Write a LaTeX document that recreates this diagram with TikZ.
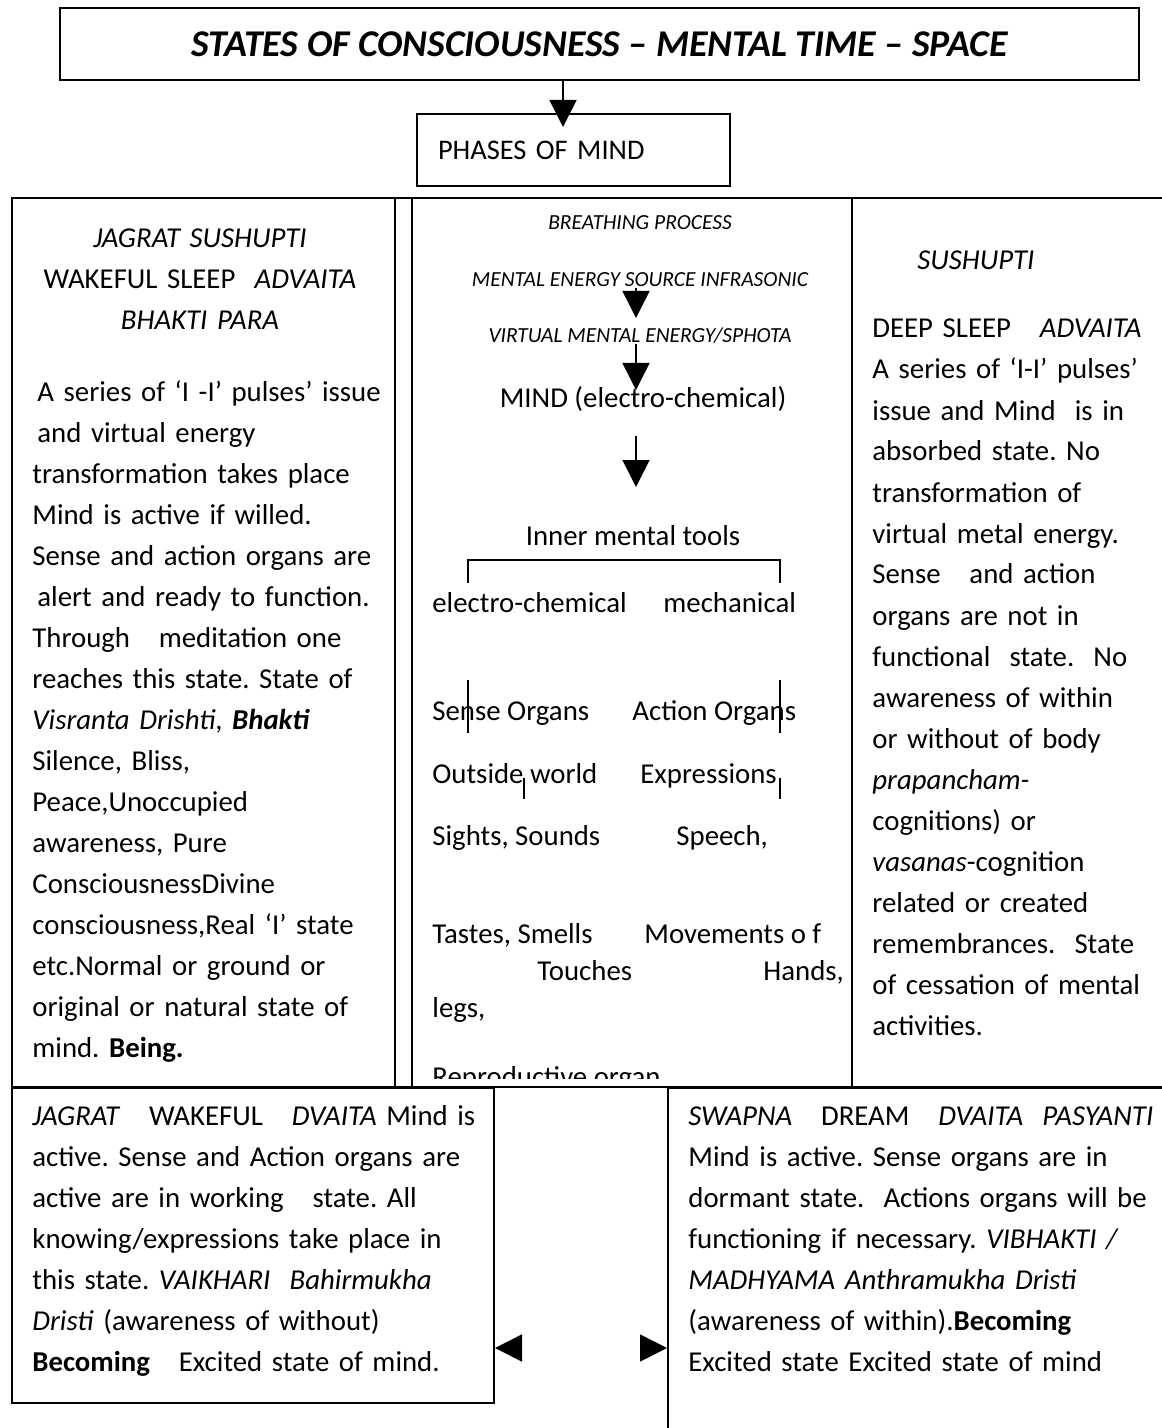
\documentclass[tikz,border=0pt]{standalone}
\usepackage{fontspec}
\setmainfont{Carlito}
\usetikzlibrary{arrows.meta}
\frenchspacing

\tikzset{
  tabrule/.style={line width=1pt},
  thinrule/.style={line width=0.75pt},
  tri/.style={thinrule,-{Triangle[length=13.5pt,width=13.5pt]}},
  colbody/.style={inner sep=0pt,anchor=base west,align=left,text width=250pt,
    font=\fontsize{14.4}{20.5}\selectfont},
  cell/.style={inner sep=0pt,anchor=base west,font=\fontsize{14.4}{16}\selectfont},
  smalltag/.style={inner sep=0pt,anchor=base,font=\fontsize{10.75}{12}\selectfont\itshape},
}

\begin{document}
\begin{tikzpicture}[x=0.5pt,y=-0.5pt]
    \useasboundingbox (0,0) rectangle (1161,1428);

    \node[draw,tabrule,minimum width=539.5pt,minimum height=36pt,inner sep=0pt,
      font=\fontsize{18.9}{20}\selectfont\bfseries\itshape] (title) at (599.5,44)
      {STATES OF CONSCIOUSNESS – MENTAL TIME – SPACE};
    \node[draw,thinrule,minimum width=156.5pt,minimum height=36pt,inner xsep=10.5pt,inner ysep=0pt,
      text width=135.5pt,align=left,font=\fontsize{14.2}{16}\selectfont] (phases) at (573.5,150)
      {PHASES OF MIND};
    \coordinate (phtip) at (563,127);
    \draw[tri] (title.south -| phtip) -- (phtip);

    \draw[tabrule] (12,1087) -- (12,198) -- (1165,198);
    \draw[tabrule] (11,1087) -- (1165,1087);
    \draw[tabrule] (395,198) -- (395,1087);
    \draw[tabrule] (412,198) -- (412,1087);
    \draw[tabrule] (852,198) -- (852,1087);

    % left column
    \node[colbody,align=center,anchor=base,text width=180pt] (jshead) at (200,248)
      {\textit{JAGRAT SUSHUPTI}\\WAKEFUL SLEEP\ \ \textit{ADVAITA}\\\textit{BHAKTI PARA}};
    \node[colbody] (jstext) at (32,401)
      {\hspace*{2.5pt}A series of ‘I -I’ pulses’ issue\\
       \hspace*{2.5pt}and virtual energy\\
       transformation takes place\\
       Mind is active if willed.\\
       Sense and action organs are\\
       \hspace*{2.5pt}alert and ready to function.\\
       Through\ \ \ meditation one\\
       reaches this state. State of\\
       \textit{Visranta Drishti}, \textbf{\textit{Bhakti}}\\
       Silence, Bliss,\\
       Peace,Unoccupied\\
       awareness, Pure\\
       ConsciousnessDivine\\
       consciousness,Real ‘I’ state\\
       etc.Normal or ground or\\
       original or natural state of\\
       mind. \textbf{Being.}};

    % middle column
    \node[smalltag] (breath) at (640,230) {BREATHING PROCESS};
    \node[smalltag] (source) at (640,287) {MENTAL ENERGY SOURCE INFRASONIC};
    \node[smalltag] (sphota) at (640,343) {VIRTUAL MENTAL ENERGY/SPHOTA};
    \node[cell,anchor=base] (mind) at (643,408) {MIND (electro-chemical)};
    \node[cell,anchor=base] (tools) at (633,545) {Inner mental tools};
    \coordinate (tip1) at (636,318);
    \coordinate (tip2) at (636,390);
    \coordinate (tip3) at (636,487);
    \draw[tri] (source.south -| tip1) -- (tip1);
    \draw[tri] (sphota.south -| tip2) -- (tip2);
    \draw[tri,shorten <=12pt] (mind.south -| tip3) -- (tip3);

    \node[cell] (echem) at (432,612) {electro-chemical};
    \node[cell] (mech) at (663,612) {mechanical};
    \draw[thinrule] (468,583) -- (468,560) -- (780,560) -- (780,583);

    \node[cell] (sense) at (432,720) {Sense Organs};
    \node[cell] (action) at (632,720) {Action Organs};
    \draw[thinrule] (468,680) -- (468,733);
    \draw[thinrule] (780,680) -- (780,733);
    \node[cell] (outside) at (432,783) {Outside world};
    \node[cell] (express) at (640,783) {Expressions};
    \draw[thinrule] (524,778) -- (524,799);
    \draw[thinrule] (780,778) -- (780,799);
    \node[cell] (sights) at (432,845) {Sights, Sounds};
    \node[cell] (speech) at (676,845) {Speech,};
    \node[cell] (tastes) at (432,943) {Tastes, Smells};
    \node[cell] (moves) at (644,943) {Movements o f};
    \node[cell] (touches) at (537,980) {Touches};
    \node[cell] (hands) at (763,980) {Hands,};
    \node[cell] (legs) at (432,1017) {legs,};
    \begin{scope}
      \clip (412,1040) rectangle (852,1078);
      \node[cell] (repro) at (432,1086) {Reproductive organ};
    \end{scope}

    % right column
    \node[colbody] (sushead) at (917,270) {\textit{SUSHUPTI}};
    \node[colbody] (sustext) at (872,338)
      {DEEP SLEEP\ \ \ \textit{ADVAITA}\\
       A series of ‘I-I’ pulses’\\
       issue and Mind\ \ is in\\
       absorbed state. No\\
       transformation of\\
       virtual metal energy.\\
       Sense\ \ \ and action\\
       organs are not in\\
       functional\ \ state.\ \ No\\
       awareness of within\\
       or without of body\\
       \textit{prapancham-}\\
       cognitions) or\\
       \textit{vasanas}-cognition\\
       related or created\\
       remembrances.\ \ State\\
       of cessation of mental\\
       activities.};

    % bottom boxes
    \node[draw,tabrule,anchor=north west,minimum width=241pt,minimum height=157.5pt,inner sep=0pt]
      (jagratbox) at (11,1087) {};
    \node[draw,tabrule,anchor=north west,minimum width=260pt,minimum height=180pt,inner sep=0pt]
      (swapbox) at (667,1087) {};
    \node[colbody] (jagrattext) at (32,1125)
      {\textit{JAGRAT}\ \ \ WAKEFUL\ \ \ \textit{DVAITA} Mind is\\
       active. Sense and Action organs are\\
       active are in working\ \ \ state. All\\
       knowing/expressions take place in\\
       this state. \textit{VAIKHARI\ \ Bahirmukha}\\
       \textit{Dristi} (awareness of without)\\
       \textbf{Becoming}\ \ \ Excited state of mind.};
    \node[colbody] (swapnatext) at (688,1125)
      {\textit{SWAPNA}\ \ \ DREAM\ \ \ \textit{DVAITA\ \ PASYANTI}\\
       Mind is active. Sense organs are in\\
       dormant state.\ \ Actions organs will be\\
       functioning if necessary. \textit{VIBHAKTI /}\\
       \textit{MADHYAMA Anthramukha Dristi}\\
       (awareness of within).\textbf{Becoming}\\
       Excited state Excited state of mind};
    \coordinate (lhead) at (520,1348);
    \coordinate (rhead) at (640,1348);
    \draw[tri] (lhead) -- (jagratbox.east |- lhead);
    \draw[tri] (rhead) -- (swapbox.west |- rhead);
\end{tikzpicture}
\end{document}
